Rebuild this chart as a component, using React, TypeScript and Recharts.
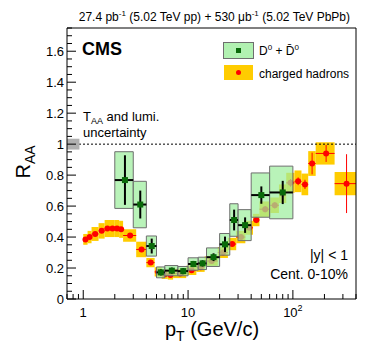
import React from 'react';
import { ComposedChart, XAxis, YAxis, Scatter, ReferenceArea, ReferenceLine } from 'recharts';

const FONT = '"Liberation Sans", Arial, Helvetica, sans-serif';

// charged hadrons: bin edges, centres, R_AA, stat and syst errors
const hadronLo = [1.0, 1.1, 1.2, 1.4, 1.6, 1.8, 2.0, 2.2, 2.4, 3.2, 4.0, 4.8, 5.6, 6.4, 7.2, 9.6, 12, 14.4, 19.2, 24, 28.8, 35.2, 41.6, 48, 60.8, 73.6, 86.4, 103.6, 120.8, 140, 165, 250];
const hadronHi = [1.1, 1.2, 1.4, 1.6, 1.8, 2.0, 2.2, 2.4, 3.2, 4.0, 4.8, 5.6, 6.4, 7.2, 9.6, 12, 14.4, 19.2, 24, 28.8, 35.2, 41.6, 48, 60.8, 73.6, 86.4, 103.6, 120.8, 140, 165, 250, 400];
const hadronPt = [1.05, 1.15, 1.3, 1.5, 1.7, 1.9, 2.1, 2.3, 2.8, 3.6, 4.4, 5.2, 6.0, 6.8, 8.4, 10.8, 13.2, 16.8, 21.6, 26.4, 32, 38.4, 44.8, 54.4, 67.2, 80, 95, 112.2, 130.4, 152.5, 207.5, 325];
const hadronRaa = [0.385, 0.4, 0.42, 0.44, 0.455, 0.455, 0.455, 0.45, 0.41, 0.32, 0.235, 0.175, 0.16, 0.155, 0.165, 0.185, 0.205, 0.245, 0.3, 0.355, 0.4, 0.46, 0.51, 0.58, 0.605, 0.68, 0.75, 0.76, 0.74, 0.875, 0.94, 0.745];
const hadronStat = [0.01, 0.01, 0.01, 0.01, 0.01, 0.01, 0.01, 0.01, 0.01, 0.01, 0.008, 0.008, 0.008, 0.008, 0.008, 0.008, 0.008, 0.01, 0.01, 0.012, 0.015, 0.015, 0.02, 0.02, 0.02, 0.02, 0.025, 0.025, 0.03, 0.07, 0.055, 0.19];
const hadronSyst = [0.035, 0.04, 0.045, 0.05, 0.055, 0.055, 0.055, 0.055, 0.04, 0.05, 0.03, 0.03, 0.03, 0.03, 0.03, 0.03, 0.03, 0.03, 0.035, 0.04, 0.04, 0.045, 0.04, 0.05, 0.05, 0.06, 0.065, 0.07, 0.07, 0.08, 0.072, 0.075];

// D0 + D0bar
const dLo = [2, 3, 4, 5, 6, 8, 10, 12.5, 15, 20, 25, 30, 40, 60];
const dHi = [3, 4, 5, 6, 8, 10, 12.5, 15, 20, 25, 30, 40, 60, 100];
const dPt = [2.5, 3.5, 4.5, 5.5, 7, 9, 11.25, 13.75, 17.5, 22.5, 27.5, 35, 50, 80];
const dRaa = [0.768, 0.61, 0.342, 0.172, 0.183, 0.18, 0.226, 0.23, 0.27, 0.353, 0.51, 0.477, 0.671, 0.688];
const dStat = [0.16, 0.09, 0.048, 0.02, 0.02, 0.02, 0.02, 0.02, 0.025, 0.05, 0.067, 0.05, 0.056, 0.075];
const dSyst = [0.183, 0.15, 0.065, 0.035, 0.033, 0.03, 0.04, 0.04, 0.06, 0.07, 0.105, 0.1, 0.143, 0.17];

// global T_AA + lumi uncertainty box
const globalLo = 0.7;
const globalHi = 0.92;
const globalUnc = 0.035;

const xMajor = [1, 10, 100];
const xTicks = [0.7, 0.8, 0.9, 1, 2, 3, 4, 5, 6, 7, 8, 9, 10, 20, 30, 40, 50, 60, 70, 80, 90, 100, 200, 300, 400];
const yMajor = [0, 0.2, 0.4, 0.6, 0.8, 1, 1.2, 1.4, 1.6];
const yTicks = [0, 0.05, 0.1, 0.15, 0.2, 0.25, 0.3, 0.35, 0.4, 0.45, 0.5, 0.55, 0.6, 0.65, 0.7, 0.75, 0.8, 0.85, 0.9, 0.95, 1, 1.05, 1.1, 1.15, 1.2, 1.25, 1.3, 1.35, 1.4, 1.45, 1.5, 1.55, 1.6, 1.65, 1.7, 1.75];

const X_MIN = 0.7;
const X_MAX = 400;
const Y_MAX = 1.75;

const GREEN_FILL = '#9eee9e';
const GREEN_EDGE = '#6e6e6e';
const ORANGE = '#ffcc00';
const RED = '#ff0000';
const DARK_GREEN = '#0a6a0a';

const hadronData = hadronPt.map((x, i) => ({ x, y: hadronRaa[i] }));
const dData = dPt.map((x, i) => ({ x, y: dRaa[i] }));

const XTick = (props: any) => {
  const { x, y, payload } = props;
  const v = payload.value;
  const major = xMajor.includes(v);
  return (
    <g>
      <line x1={x} x2={x} y1={y} y2={y - (major ? 9 : 5)} stroke="#000" />
      {major && (
        <text x={x} y={y + 18} textAnchor="middle" fontSize={13} fontFamily={FONT} fill="#000">
          {v === 100 ? (
            <>
              10<tspan dy={-6} fontSize={9}>2</tspan>
            </>
          ) : (
            String(v)
          )}
        </text>
      )}
    </g>
  );
};

const YTick = (props: any) => {
  const { x, y, payload } = props;
  const v = payload.value;
  const major = yMajor.some((m) => Math.abs(m - v) < 1e-6);
  return (
    <g>
      <line x1={x} x2={x + (major ? 9 : 5)} y1={y} y2={y} stroke="#000" />
      {major && (
        <text x={x - 3} y={y + 4.5} textAnchor="end" fontSize={13} fontFamily={FONT} fill="#000">
          {String(Number(v.toFixed(1)))}
        </text>
      )}
    </g>
  );
};

const greenSquare = (props: any) => {
  const { cx, cy } = props;
  return <rect x={cx - 3} y={cy - 3} width={6} height={6} fill={DARK_GREEN} />;
};

const redDot = (props: any) => {
  const { cx, cy } = props;
  return <circle cx={cx} cy={cy} r={3} fill={RED} />;
};

export default function App() {
  return (
    <div style={{ position: 'absolute', left: 0, top: 0, width: 366, height: 351, background: '#fff' }}>
      <ComposedChart width={366} height={351} margin={{ top: 28, right: 10, bottom: 0, left: 0 }}>
        <XAxis
          dataKey="x"
          type="number"
          scale="log"
          domain={[X_MIN, X_MAX]}
          allowDataOverflow
          ticks={xTicks}
          interval={0}
          tickSize={0}
          tickMargin={0}
          tickLine={false}
          tick={<XTick />}
          height={52}
          axisLine={{ stroke: '#000' }}
        />
        <YAxis
          dataKey="y"
          type="number"
          domain={[0, Y_MAX]}
          allowDataOverflow
          ticks={yTicks}
          interval={0}
          tickSize={0}
          tickMargin={0}
          tickLine={false}
          tick={<YTick />}
          width={67}
          axisLine={{ stroke: '#000' }}
        />

        {/* charged hadron systematic boxes */}
        {hadronPt.map((x, i) => (
          <ReferenceArea
            key={'hs' + i}
            x1={hadronLo[i]}
            x2={hadronHi[i]}
            y1={hadronRaa[i] - hadronSyst[i]}
            y2={hadronRaa[i] + hadronSyst[i]}
            fill={ORANGE}
            fillOpacity={1}
            stroke="none"
            ifOverflow="visible"
            zIndex={101}
          />
        ))}
        {hadronPt.map((x, i) => (
          <ReferenceLine
            key={'hx' + i}
            segment={[{ x: hadronLo[i], y: hadronRaa[i] }, { x: hadronHi[i], y: hadronRaa[i] }]}
            stroke={RED}
            strokeWidth={1}
            ifOverflow="visible"
            zIndex={102}
          />
        ))}
        {hadronPt.map((x, i) => (
          <ReferenceLine
            key={'hy' + i}
            segment={[{ x, y: hadronRaa[i] - hadronStat[i] }, { x, y: hadronRaa[i] + hadronStat[i] }]}
            stroke={RED}
            strokeWidth={1}
            ifOverflow="visible"
            zIndex={102}
          />
        ))}
        <Scatter data={hadronData} shape={redDot} isAnimationActive={false} zIndex={103} />

        {/* D0 systematic boxes */}
        {dPt.map((x, i) => (
          <ReferenceArea
            key={'ds' + i}
            x1={dLo[i]}
            x2={dHi[i]}
            y1={dRaa[i] - dSyst[i]}
            y2={dRaa[i] + dSyst[i]}
            fill={GREEN_FILL}
            fillOpacity={0.72}
            stroke={GREEN_EDGE}
            strokeWidth={1}
            ifOverflow="visible"
            zIndex={104}
          />
        ))}
        {dPt.map((x, i) => (
          <ReferenceLine
            key={'dx' + i}
            segment={[{ x: dLo[i], y: dRaa[i] }, { x: dHi[i], y: dRaa[i] }]}
            stroke="#000"
            strokeWidth={2}
            ifOverflow="visible"
            zIndex={105}
          />
        ))}
        {dPt.map((x, i) => (
          <ReferenceLine
            key={'dy' + i}
            segment={[{ x, y: dRaa[i] - dStat[i] }, { x, y: dRaa[i] + dStat[i] }]}
            stroke="#000"
            strokeWidth={2}
            ifOverflow="visible"
            zIndex={105}
          />
        ))}
        <Scatter data={dData} shape={greenSquare} isAnimationActive={false} zIndex={106} />

        <ReferenceLine y={1} stroke="#000" strokeDasharray="2 2" ifOverflow="visible" zIndex={107} />
        <ReferenceArea
          x1={globalLo}
          x2={globalHi}
          y1={1 - globalUnc}
          y2={1 + globalUnc}
          fill="#b0b0b0"
          fillOpacity={1}
          stroke="none"
          ifOverflow="visible"
          zIndex={108}
        />
        <ReferenceLine y={Y_MAX} stroke="#000" ifOverflow="visible" zIndex={109} />
        <ReferenceLine x={X_MAX} stroke="#000" ifOverflow="visible" zIndex={109} />
      </ComposedChart>

      <svg
        width={366}
        height={351}
        style={{ position: 'absolute', left: 0, top: 0, pointerEvents: 'none' }}
        fontFamily={FONT}
      >
        <text x={350} y={21} textAnchor="end" fontSize={12} fill="#000">
          27.4 pb<tspan dy={-5} fontSize={8}>-1</tspan>
          <tspan dy={5}> (5.02 TeV pp) + 530 μb</tspan>
          <tspan dy={-5} fontSize={8}>-1</tspan>
          <tspan dy={5}> (5.02 TeV PbPb)</tspan>
        </text>
        <text x={82} y={55} fontSize={18} fontWeight="bold" fill="#000">
          CMS
        </text>

        {/* legend */}
        <rect x={223.5} y={42.5} width={30} height={16} fill={GREEN_FILL} fillOpacity={0.8} stroke={GREEN_EDGE} />
        <rect x={236} y={48} width={5} height={5} fill={DARK_GREEN} />
        <text x={259} y={55} fontSize={12} fill="#000">
          D<tspan dy={-5} fontSize={8}>0</tspan>
          <tspan dy={5}> + D̄</tspan>
          <tspan dy={-5} fontSize={8}>0</tspan>
        </text>
        <rect x={224} y={65} width={29} height={15} fill={ORANGE} />
        <circle cx={238.5} cy={72.5} r={2.5} fill={RED} />
        <text x={259} y={78} fontSize={12} fill="#000">
          charged hadrons
        </text>

        <text x={83} y={121} fontSize={13} fill="#000">
          T<tspan dy={3} fontSize={9}>AA</tspan>
          <tspan dy={-3}> and lumi.</tspan>
        </text>
        <text x={83} y={137} fontSize={13} fill="#000">
          uncertainty
        </text>

        <text x={348} y={260} textAnchor="end" fontSize={14} fill="#000">
          |y| &lt; 1
        </text>
        <text x={348} y={279} textAnchor="end" fontSize={14} fill="#000">
          Cent. 0-10%
        </text>

        <text transform="translate(30,162) rotate(-90)" textAnchor="middle" fontSize={20} fill="#000">
          R<tspan dy={5} fontSize={14}>AA</tspan>
        </text>
        <text x={212} y={336} textAnchor="middle" fontSize={20} fill="#000">
          p<tspan dy={5} fontSize={14}>T</tspan>
          <tspan dy={-5}> (GeV/c)</tspan>
        </text>
      </svg>
    </div>
  );
}
